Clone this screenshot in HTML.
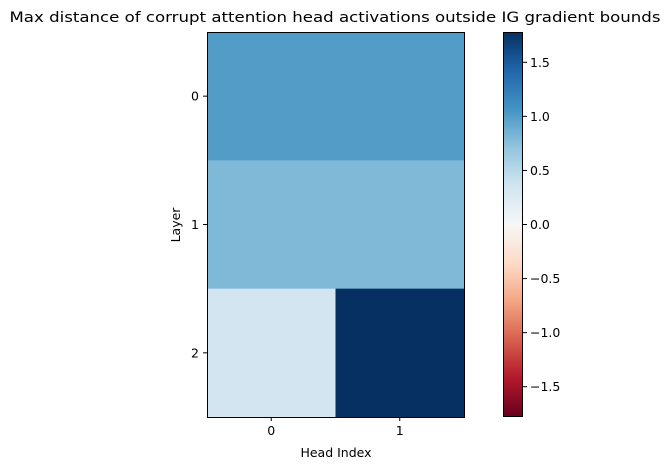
<!DOCTYPE html>
<html><head><meta charset="utf-8"><style>
body{margin:0;background:#fff;width:671px;height:470px;overflow:hidden}
text{font-family:"DejaVu Sans","Liberation Sans",sans-serif;fill:#000}
</style></head><body>
<svg id="chart" width="671" height="470" xmlns="http://www.w3.org/2000/svg">
<defs><linearGradient id="cbg" x1="0" y1="1" x2="0" y2="0">
<stop offset="0" stop-color="#67001f"/><stop offset="0.1" stop-color="#b2182b"/><stop offset="0.2" stop-color="#d6604d"/><stop offset="0.3" stop-color="#f4a582"/><stop offset="0.4" stop-color="#fddbc7"/><stop offset="0.5" stop-color="#f7f7f7"/><stop offset="0.6" stop-color="#d1e5f0"/><stop offset="0.7" stop-color="#92c5de"/><stop offset="0.8" stop-color="#4393c3"/><stop offset="0.9" stop-color="#2166ac"/><stop offset="1" stop-color="#053061"/>
</linearGradient></defs>
<text x="335" y="22" text-anchor="middle" font-size="14.5" textLength="651" lengthAdjust="spacingAndGlyphs">Max distance of corrupt attention head activations outside IG gradient bounds</text>
<g id="cells"></g>
<rect x="207.5" y="32.5" width="257" height="385" fill="none" stroke="#000" stroke-width="1"/>
<g id="axes"></g>
<text x="336" y="457" text-anchor="middle" font-size="12.5">Head Index</text>
<text transform="translate(180,225) rotate(-90)" text-anchor="middle" font-size="12.5">Layer</text>
<rect x="503" y="32" width="20" height="385" fill="url(#cbg)"/>
<rect x="503.5" y="32.5" width="19" height="384" fill="none" stroke="#000" stroke-width="1"/>
<g id="cbticks"></g>
</svg>
<script>
const heads=["0","1"];
const layers=["0","1","2"];
const row0=[1.0,1.0];
const row1=[0.8,0.8];
const row2=[0.35,1.78];
const cbTicks=[1.5,1.0,0.5,0.0,-0.5,-1.0,-1.5];
const vmax=1.78;
const values=[row0,row1,row2];
const NS="http://www.w3.org/2000/svg";
const X0=207,X1=464,Y0=32,Y1=417,CB0=32,CB1=417;
const xs=i=>X0+(X1-X0)/heads.length*i;
const ys=j=>Y0+(Y1-Y0)/layers.length*j;
const cby=v=>CB0+(vmax-v)/(2*vmax)*(CB1-CB0);
const stops=["#67001f","#b2182b","#d6604d","#f4a582","#fddbc7","#f7f7f7","#d1e5f0","#92c5de","#4393c3","#2166ac","#053061"].map(h=>[1,3,5].map(k=>parseInt(h.substr(k,2),16)));
function cmap(v){let t=(v+vmax)/(2*vmax);t=Math.max(0,Math.min(1,t))*10;let i=Math.min(9,Math.floor(t)),f=t-i;const c=stops[i].map((a,k)=>Math.round(a+(stops[i+1][k]-a)*f));return `rgb(${c})`;}
function mk(tag,attrs,parent){const e=document.createElementNS(NS,tag);for(const k in attrs)e.setAttribute(k,attrs[k]);parent.appendChild(e);return e;}
const cells=document.getElementById('cells'),axes=document.getElementById('axes'),cbt=document.getElementById('cbticks');
values.forEach((row,j)=>row.forEach((v,i)=>{
 const r=mk('rect',{x:xs(i),y:ys(j),width:xs(1)-xs(0)+0.5,height:ys(1)-ys(0)+0.5,fill:cmap(v)},cells);
 
 
}));
heads.forEach((h,i)=>{const cx=(xs(i)+xs(i+1))/2;
 const l=mk('line',{x1:cx,x2:cx,y1:Y1,y2:Y1+4,stroke:'#000'},axes);
 
 
 const t=mk('text',{x:cx,y:Y1+18,'text-anchor':'middle','font-size':12.5},axes);t.textContent=h;
 
 
});
layers.forEach((h,j)=>{const cy=(ys(j)+ys(j+1))/2;
 const l=mk('line',{x1:X0-4,x2:X0,y1:cy,y2:cy,stroke:'#000'},axes);
 
 
 const t=mk('text',{x:X0-8,y:cy+4.5,'text-anchor':'end','font-size':12.5},axes);t.textContent=h;
 
 
});
cbTicks.forEach(v=>{const y=cby(v);
 const l=mk('line',{x1:523,x2:527,y1:y,y2:y,stroke:'#000'},cbt);
 
 
 const t=mk('text',{x:530,y:y+4.5,'font-size':12.5},cbt);t.textContent=(v<0?'\u2212':'')+Math.abs(v).toFixed(1);
 
 
});
</script>
</body></html>
